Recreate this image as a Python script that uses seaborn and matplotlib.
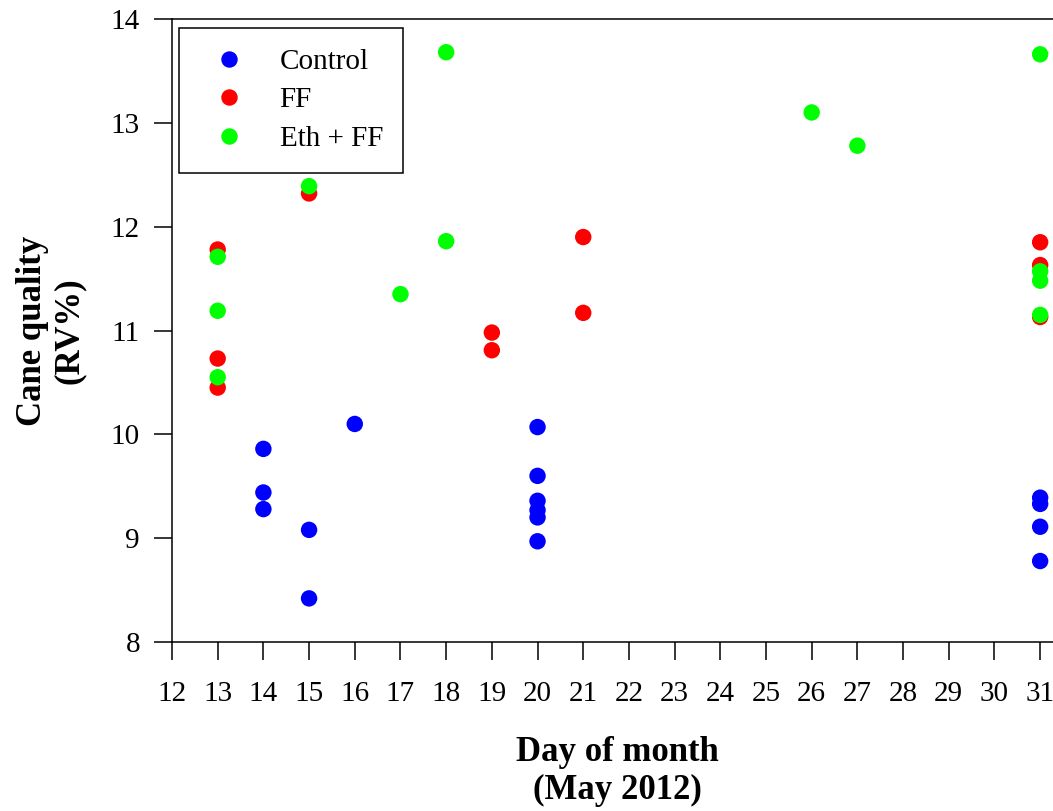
import matplotlib
matplotlib.use("Agg")
import matplotlib.pyplot as plt
import seaborn as sns
import pandas as pd

# ---- data ----
control_day = [14, 14, 14, 15, 15, 16, 20, 20, 20, 20, 20, 20, 31, 31, 31, 31]
control_val = [9.86, 9.44, 9.28, 9.08, 8.42, 10.10, 10.07, 9.60, 9.36, 9.27, 9.20, 8.97,
               9.39, 9.33, 9.11, 8.78]

ff_day = [13, 13, 13, 15, 19, 19, 21, 21, 31, 31, 31]
ff_val = [11.78, 10.73, 10.45, 12.32, 10.98, 10.81, 11.90, 11.17, 11.85, 11.63, 11.13]

eth_day = [13, 13, 13, 15, 17, 18, 18, 26, 27, 31, 31, 31, 31]
eth_val = [11.71, 11.19, 10.55, 12.39, 11.35, 11.86, 13.68, 13.10, 12.78, 13.66,
           11.57, 11.48, 11.15]

groups = ["Control", "FF", "Eth + FF"]
colors = ["#0000FF", "#FF0000", "#00FF00"]
x_ticks = list(range(12, 32))
y_ticks = [8, 9, 10, 11, 12, 13, 14]

df = pd.concat([
    pd.DataFrame({"day": control_day, "val": control_val, "grp": groups[0]}),
    pd.DataFrame({"day": ff_day, "val": ff_val, "grp": groups[1]}),
    pd.DataFrame({"day": eth_day, "val": eth_val, "grp": groups[2]}),
], ignore_index=True)

sns.set_style("white")
plt.rcParams["font.family"] = ["Liberation Serif", "DejaVu Serif"]
plt.rcParams.update({"text.color": "black", "axes.labelcolor": "black",
                     "xtick.color": "black", "ytick.color": "black",
                     "axes.edgecolor": "black"})

W, H = 1053, 811
fig = plt.figure(figsize=(W / 100, H / 100), dpi=100)
left, right, top, bottom = 172, 1063, 19, 642
ax = fig.add_axes([left / W, (H - bottom) / H, (right - left) / W, (bottom - top) / H])

sns.scatterplot(data=df, x="day", y="val", hue="grp", hue_order=groups,
                palette=dict(zip(groups, colors)), s=140, linewidth=0,
                edgecolor="none", ax=ax, clip_on=False, zorder=3)

ax.set_xlim(12, 31.5)
ax.set_ylim(8, 14)
ax.set_xticks(x_ticks)
ax.set_yticks(y_ticks)
ax.tick_params(axis="both", direction="out", length=13, width=1.1, color="black",
               labelcolor="black", labelsize=21, pad=10, left=True, bottom=True)
ax.tick_params(axis="x", pad=15)
for side in ["left", "bottom", "top", "right"]:
    ax.spines[side].set_color("black")
    ax.spines[side].set_linewidth(1.1)

ax.set_xlabel("Day of month\n(May 2012)", fontsize=25, fontweight="bold", labelpad=21,
              linespacing=1.2, color="black")
ax.set_ylabel("Cane quality\n(RV%)", fontsize=25, fontweight="bold", labelpad=18,
              linespacing=1.15, color="black")

handles, labels = ax.get_legend_handles_labels()
leg = ax.legend(handles, labels, loc="upper left",
                bbox_to_anchor=((179 - left) / (right - left), (bottom - 28) / (bottom - top)),
                borderaxespad=0, fontsize=21, frameon=True, fancybox=False,
                edgecolor="black", borderpad=0.7, handlelength=2.0,
                handletextpad=0.75, labelspacing=0.42, markerscale=1.0)
leg.get_frame().set_linewidth(1.1)
leg.get_frame().set_alpha(1)
for t in leg.get_texts():
    t.set_color("black")

fig.savefig("out.png", dpi=100)
